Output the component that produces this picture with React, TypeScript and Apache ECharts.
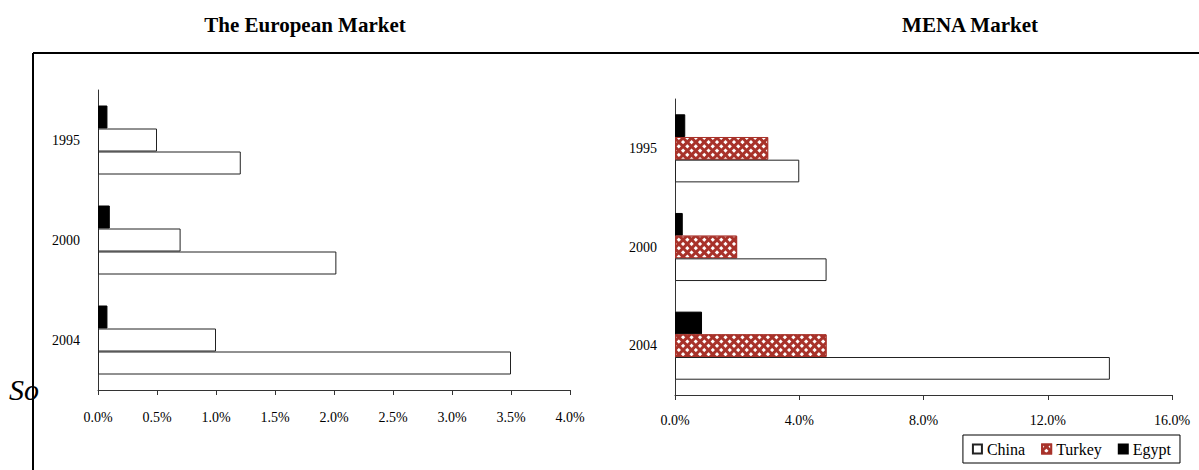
import React, { useEffect, useRef } from 'react';
import * as echarts from 'echarts';

const years = ['1995', '2000', '2004'];
const euEgypt = [0.08, 0.1, 0.08];
const euTurkey = [0.5, 0.7, 1.0];
const euChina = [1.21, 2.02, 3.5];
const menaEgypt = [0.33, 0.25, 0.87];
const menaTurkey = [3.0, 2.0, 4.88];
const menaChina = [4.0, 4.88, 14.0];
const legendNames = ['China', 'Turkey', 'Egypt'];
const titles = ['The European Market', 'MENA Market'];

const FONT = '"Liberation Serif", "Times New Roman", serif';
const AX = '#333';

export default function App() {
  const ref = useRef<HTMLDivElement>(null);
  useEffect(() => {
    if (!ref.current) return;
    const chart = echarts.init(ref.current, undefined, { renderer: 'svg' });
    const catAxis = (gridIndex: number) => ({
      type: 'category',
      gridIndex,
      data: years,
      inverse: true,
      axisLine: { lineStyle: { color: AX, width: 1 } },
      axisTick: { length: 7, lineStyle: { color: AX } },
      axisLabel: { color: '#000', fontFamily: FONT, fontSize: 14, margin: 18 },
    });
    const valAxis = (gridIndex: number, max: number, interval: number, margin: number) => ({
      type: 'value',
      gridIndex,
      min: 0,
      max,
      interval,
      splitLine: { show: false },
      axisLine: { show: true, lineStyle: { color: AX, width: 1 } },
      axisTick: { show: true, length: 5, lineStyle: { color: AX } },
      axisLabel: {
        color: '#000',
        fontFamily: FONT,
        fontSize: 14,
        margin,
        formatter: (v: number) => v.toFixed(1) + '%',
      },
    });
    const whiteStyle = { color: '#fff', borderColor: '#222', borderWidth: 1 };
    const blackStyle = { color: '#000', borderColor: '#000', borderWidth: 1 };
    const patStyle = {
      color: '#a8322a',
      borderColor: '#a8322a',
      borderWidth: 1,
      decal: {
        symbol: 'rect',
        symbolSize: 1,
        color: '#ffffff',
        dashArrayX: [3, 2.5],
        dashArrayY: [3, 2.5],
        rotation: Math.PI / 4,
      },
    };
    const common = { type: 'bar', barGap: '0%', barCategoryGap: '31%', emphasis: { disabled: true } };
    chart.setOption({
      animation: false,
      title: [
        {
          text: titles[0],
          left: 300,
          top: 9,
          textAlign: 'center',
          textStyle: { fontFamily: FONT, fontSize: 21, fontWeight: 'bold', color: '#000' },
        },
        {
          text: titles[1],
          left: 965,
          top: 9,
          textAlign: 'center',
          textStyle: { fontFamily: FONT, fontSize: 21, fontWeight: 'bold', color: '#000' },
        },
      ],
      grid: [
        { left: 98, top: 90, width: 472, height: 300 },
        { left: 675, top: 99, width: 497, height: 296 },
      ],
      xAxis: [valAxis(0, 4, 0.5, 20), valAxis(1, 16, 4, 18)],
      yAxis: [catAxis(0), catAxis(1)],
      legend: {
        data: legendNames,
        right: 19,
        bottom: 7,
        itemWidth: 9,
        itemHeight: 9,
        itemGap: 16,
        icon: 'rect',
        padding: [6, 9],
        borderColor: '#000',
        borderWidth: 1,
        backgroundColor: '#fff',
        textStyle: { fontFamily: FONT, fontSize: 16, color: '#000' },
        selectedMode: false,
      },
      series: [
        { ...common, name: 'Egypt', xAxisIndex: 1, yAxisIndex: 1, data: menaEgypt, itemStyle: blackStyle },
        { ...common, name: 'Turkey', xAxisIndex: 1, yAxisIndex: 1, data: menaTurkey, itemStyle: patStyle },
        { ...common, name: 'China', xAxisIndex: 1, yAxisIndex: 1, data: menaChina, itemStyle: whiteStyle },
        { ...common, name: 'Egypt', xAxisIndex: 0, yAxisIndex: 0, data: euEgypt, itemStyle: blackStyle },
        { ...common, name: 'Turkey', xAxisIndex: 0, yAxisIndex: 0, data: euTurkey, itemStyle: whiteStyle },
        { ...common, name: 'China', xAxisIndex: 0, yAxisIndex: 0, data: euChina, itemStyle: whiteStyle },
      ],
      graphic: [
        {
          type: 'text',
          left: 9,
          top: 374,
          z: 0,
          style: { text: 'So', fontFamily: FONT, fontSize: 30, fontStyle: 'italic', fill: '#000' },
        },
        { type: 'line', z: 10, shape: { x1: 33, y1: 53, x2: 1199, y2: 53 }, style: { stroke: '#000', lineWidth: 2 } },
        { type: 'line', z: 10, shape: { x1: 33, y1: 53, x2: 33, y2: 470 }, style: { stroke: '#000', lineWidth: 2 } },
      ],
    });
    return () => chart.dispose();
  }, []);
  return <div ref={ref} style={{ width: 1199, height: 470, position: 'absolute', left: 0, top: 0 }} />;
}
